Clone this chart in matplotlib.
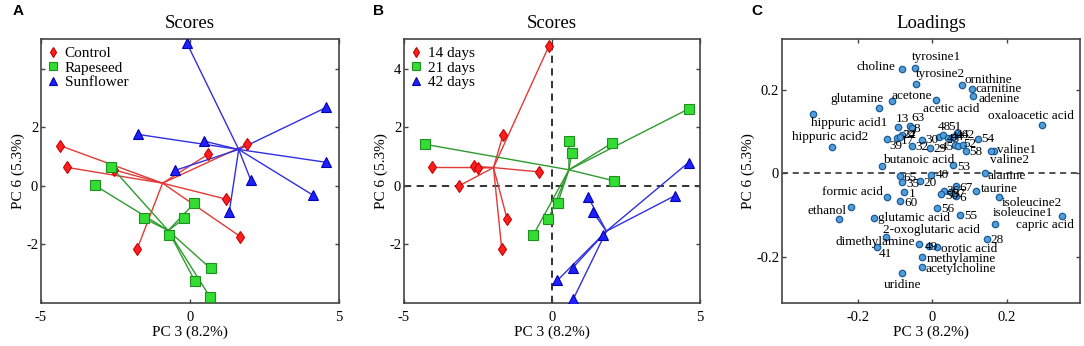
import numpy as np
import matplotlib
matplotlib.use("Agg")
from matplotlib import pyplot as plt

plt.rcParams['font.family'] = ['Liberation Serif', 'DejaVu Serif']
plt.rcParams['axes.unicode_minus'] = False

# Panel A - scores grouped by diet
ctrl_x = [-4.37, -4.11, -2.56, 0.62, 1.93, 1.21, 1.69, -1.77]
ctrl_y = [1.38, 0.63, 0.55, 1.09, 1.43, -0.45, -1.73, -2.15]
rape_x = [-2.65, -3.19, -1.54, -0.19, 0.15, -0.70, 0.69, 0.17, 0.68]
rape_y = [0.66, 0.02, -1.11, -1.11, -0.59, -1.69, -2.82, -3.26, -3.81]
sun_x = [-0.11, -1.74, 0.47, -0.50, 4.57, 4.55, 4.12, 2.04, 1.32]
sun_y = [4.89, 1.76, 1.53, 0.53, 2.68, 0.81, -0.31, 0.20, -0.88]
groups_a = ['Control', 'Rapeseed', 'Sunflower']

# Panel B - scores grouped by age
d14_x = [-0.11, -1.66, -4.06, -2.64, -2.51, -3.15, -0.44, -1.52, -1.70]
d14_y = [4.77, 1.73, 0.63, 0.67, 0.62, 0.00, 0.48, -1.12, -2.15]
d21_x = [-4.28, 0.57, 0.66, 2.02, 4.63, 2.11, 0.19, -0.12, -0.64]
d21_y = [1.42, 1.54, 1.14, 1.46, 2.64, 0.17, -0.59, -1.13, -1.69]
d42_x = [4.61, 4.16, 1.22, 1.38, 1.73, 0.70, 0.18, 0.71]
d42_y = [0.80, -0.33, -0.38, -0.89, -1.66, -2.80, -3.23, -3.88]
groups_b = ['14 days', '21 days', '42 days']

# Panel C - loadings
load_names = ['choline', 'tyrosine1', 'tyrosine2', 'ornithine', 'carnitine', 'adenine',
              'acetone', 'glutamine', 'acetic acid', 'oxaloacetic acid', 'hippuric acid1',
              'hippuric acid2', 'valine1', 'valine2', 'butanoic acid', '53', '13', '63', '8',
              '39', '17', '22', '24', '32', '30', '29', '48', '51', '43', '44', '46', '45',
              '52', '58', '42', '54', '65', '35', '20', '40', 'alanine', '1', '60', '36',
              '50', '37', '67', '6', 'taurine', 'isoleucine2', '56', '55', 'isoleucine1',
              'capric acid', 'formic acid', 'ethanol', '', 'glutamic acid',
              '2-oxoglutaric acid', 'dimethylamine', '41', '49', 'orotic acid',
              'methylamine', 'acetylcholine', 'uridine', '28']
load_x = [-0.082, -0.047, -0.044, 0.081, 0.106, 0.110, -0.107, -0.142, 0.010, 0.296, -0.319,
          -0.268, 0.166, 0.157, -0.134, 0.056, -0.091, -0.060, -0.054, -0.121, -0.094, -0.082,
          -0.087, -0.054, -0.026, -0.006, 0.019, 0.030, 0.043, 0.055, 0.061, 0.070, 0.082,
          0.090, 0.067, 0.124, -0.087, -0.080, -0.033, -0.002, 0.141, -0.076, -0.085, 0.031,
          0.025, 0.052, 0.065, 0.065, 0.119, 0.179, 0.014, 0.074, 0.170, 0.349, -0.121,
          -0.218, -0.251, -0.157, -0.125, -0.036, -0.147, -0.009, 0.013, -0.026, -0.026,
          -0.081, 0.148]
load_y = [0.249, 0.252, 0.214, 0.210, 0.202, 0.184, 0.172, 0.156, 0.174, 0.116, 0.142,
          0.062, 0.052, 0.052, 0.018, 0.019, 0.111, 0.112, 0.107, 0.082, 0.084, 0.091,
          0.087, 0.064, 0.080, 0.060, 0.087, 0.091, 0.084, 0.087, 0.068, 0.064, 0.067,
          0.052, 0.096, 0.081, -0.008, -0.022, -0.020, -0.005, 0.000, -0.046, -0.068, -0.044,
          -0.051, -0.046, -0.032, -0.056, -0.044, -0.058, -0.083, -0.101, -0.123, -0.103,
          -0.057, -0.081, -0.109, -0.107, -0.152, -0.169, -0.177, -0.174, -0.178, -0.202,
          -0.225, -0.239, -0.159]

# label placement (offset in points, horizontal alignment)
label_pos = {
    'choline': (-4.8, 1.2, 'right'), 'tyrosine1': (-1.7, 7.9, 'left'),
    'tyrosine2': (0, 6.7, 'left'), 'ornithine': (1.9, 4.1, 'left'),
    'carnitine': (3.1, 0, 'left'), 'adenine': (3.6, -1.9, 'left'),
    'acetone': (-0.5, 3.6, 'left'), 'glutamine': (2.9, 6.5, 'right'),
    'acetic acid': (-9.1, -6.2, 'left'), 'oxaloacetic acid': (-39, 6.5, 'left'),
    'hippuric acid1': (-1.9, -7.0, 'left'), 'hippuric acid2': (-29.3, 7.4, 'left'),
    'valine1': (1.9, 1.2, 'left'), 'valine2': (-0.5, -6.5, 'left'),
    'butanoic acid': (0.7, 4.3, 'left'), '53': (3.1, -1.4, 'left'),
    '13': (-1.7, 5.3, 'left'), '63': (1.2, 6.0, 'left'), '8': (1.4, -0.5, 'left'),
    '39': (1.9, -5.3, 'left'), '17': (2.4, -2.4, 'left'), '22': (1.2, 0, 'left'),
    '24': (2.2, 1.0, 'left'), '32': (2.6, -0.7, 'left'), '30': (2.4, 0, 'left'),
    '29': (2.4, -0.5, 'left'), '48': (-0.7, 7.0, 'left'), '51': (3.6, 5.8, 'left'),
    '43': (-1.0, -0.5, 'left'), '44': (-1.0, 0, 'left'), '46': (1.0, 6.7, 'left'),
    '45': (-3.1, -0.5, 'right'), '52': (0.5, 0.5, 'left'), '58': (2.4, -0.7, 'left'),
    '42': (3.1, -1.7, 'left'), '54': (2.4, 0, 'left'), '65': (2.9, -1.2, 'left'),
    '35': (2.9, -1.0, 'left'), '20': (2.4, -1.2, 'left'), '40': (3.1, -0.2, 'left'),
    'alanine': (2.4, -2.4, 'left'), '1': (3.6, -1.0, 'left'), '60': (3.1, -1.2, 'left'),
    '36': (1.9, 0, 'left'), '50': (2.4, -1.2, 'left'), '37': (1.0, -1.0, 'left'),
    '67': (2.4, -1.2, 'left'), '6': (2.4, -1.2, 'left'), 'taurine': (3.1, 1.7, 'left'),
    'isoleucine2': (1.9, -4.1, 'left'), '56': (2.9, -1.2, 'left'), '55': (3.1, -0.7, 'left'),
    'isoleucine1': (-1.7, 8.4, 'left'), 'capric acid': (-32.9, -6.7, 'left'),
    'formic acid': (-2.9, 3.6, 'right'), 'ethanol': (-3.1, -3.1, 'right'),
    'glutamic acid': (3.1, -0.2, 'left'), '2-oxoglutaric acid': (-1.7, 5.0, 'left'),
    'dimethylamine': (-2.9, 1.0, 'right'), '41': (1.2, -5.0, 'left'),
    '49': (-2.9, -1.0, 'left'), 'orotic acid': (3.1, -1.2, 'left'),
    'methylamine': (2.9, -1.0, 'left'), 'acetylcholine': (2.4, -1.2, 'left'),
    'uridine': (-13.4, -8.4, 'left'), '28': (2.4, -0.7, 'left'),
}

styles = [
    dict(marker='d', ms=6.5, mfc='#ff1f1f', mec='#c80000', line='#e23a36'),
    dict(marker='s', ms=7.0, mfc='#33dd33', mec='#1f8f1f', line='#2f9a2f'),
    dict(marker='^', ms=7.5, mfc='#2020ff', mec='#0000b0', line='#3030e0'),
]

fig = plt.figure(figsize=(10.84, 3.46), dpi=100)
ax_a = fig.add_axes([0.0378, 0.1243, 0.2749, 0.763])
ax_b = fig.add_axes([0.3727, 0.1243, 0.2731, 0.763])
ax_c = fig.add_axes([0.7214, 0.1243, 0.2749, 0.763])


def style_axes(ax):
    for sp in ax.spines.values():
        sp.set_color('#444444')
        sp.set_linewidth(1.2)
    ax.tick_params(direction='in', top=True, right=True, length=3, width=1,
                   color='#444444', labelsize=10.5)
    ax.tick_params(axis='x', pad=6)
    ax.tick_params(axis='y', pad=2)
    ax.set_xlabel('PC 3 (8.2%)', fontsize=11, labelpad=1)
    ax.set_ylabel('PC 6 (5.3%)', fontsize=11, labelpad=1)


def scores(ax, xs, ys, names, title):
    for gx, gy, st, nm in zip(xs, ys, styles, names):
        gx = np.array(gx)
        gy = np.array(gy)
        cx, cy = gx.mean(), gy.mean()
        for px, py in zip(gx, gy):
            ax.plot([cx, px], [cy, py], color=st['line'], lw=1.0, zorder=2)
        ax.plot(gx, gy, ls='none', marker=st['marker'], ms=st['ms'],
                mfc=st['mfc'], mec=st['mec'], mew=0.8, label=nm, zorder=3)
    ax.set_xlim(-5, 5)
    ax.set_ylim(-4, 5.02)
    ax.set_xticks([-5, 0, 5])
    ax.set_yticks([-2, 0, 2, 4])
    ax.set_title(title, fontsize=13.5, pad=8)
    ax.legend(loc='upper left', frameon=False, fontsize=11, markerscale=0.75,
              handlelength=0.6, handletextpad=0.45, labelspacing=0.05,
              borderaxespad=0.2, borderpad=0.3)
    style_axes(ax)


scores(ax_a, [ctrl_x, rape_x, sun_x], [ctrl_y, rape_y, sun_y], groups_a, 'Scores')
ax_a.set_yticklabels(['-2', '0', '2', ''])

scores(ax_b, [d14_x, d21_x, d42_x], [d14_y, d21_y, d42_y], groups_b, 'Scores')
ax_b.axhline(0, color='#222222', ls=(0, (4, 3)), lw=1.3, zorder=1)
ax_b.axvline(0, color='#222222', ls=(0, (4, 3)), lw=1.3, zorder=1)

# loadings
ax_c.axhline(0, color='#222222', ls=(0, (4, 3)), lw=1.1, zorder=1)
ax_c.plot(load_x, load_y, ls='none', marker='o', ms=4.6, mfc='#4f9fdc',
          mec='#1d5a98', mew=0.9, zorder=3)
for nm, lx, ly in zip(load_names, load_x, load_y):
    if nm == '':
        continue
    dx, dy, ha = label_pos[nm]
    ax_c.annotate(nm, (lx, ly), xytext=(dx, dy), textcoords='offset points',
                  ha=ha, va='center', fontsize=9.5, zorder=4)
ax_c.set_xlim(-0.403, 0.397)
ax_c.set_ylim(-0.311, 0.321)
ax_c.set_xticks([-0.2, 0, 0.2])
ax_c.set_xticklabels(['-0.2', '0', '0.2'])
ax_c.set_yticks([-0.2, 0, 0.2])
ax_c.set_yticklabels(['-0.2', '0', '0.2'])
ax_c.set_title('Loadings', fontsize=13.5, pad=8)
style_axes(ax_c)

for lab, xp in zip(['A', 'B', 'C'], [0.0115, 0.344, 0.693]):
    fig.text(xp, 0.988, lab, fontsize=11, fontweight='bold', va='top',
             family=['Liberation Sans', 'DejaVu Sans'])

fig.savefig('out.png', dpi=100)
